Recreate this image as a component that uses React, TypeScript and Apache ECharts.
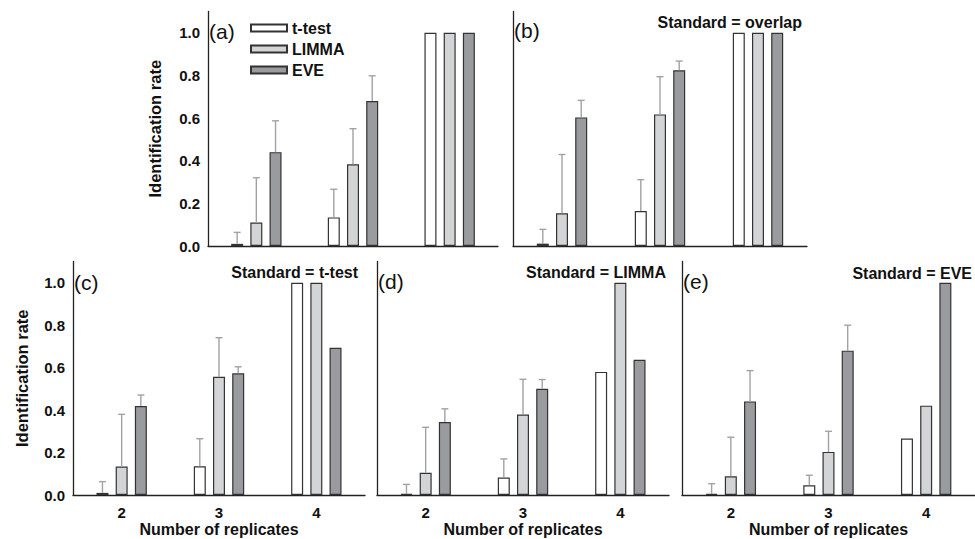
import React, { useEffect, useRef } from "react";
import * as echarts from "echarts";

// ---------- data ----------
const categories = ["2", "3", "4"];
const methodNames = ["t-test", "LIMMA", "EVE"];
const yTicks = [0, 0.2, 0.4, 0.6, 0.8, 1.0];

// panel (a) – no standard
const aTTest = [0.01, 0.134, 1.0];
const aTTestErr = [0.064, 0.266, null];
const aLimma = [0.11, 0.383, 1.0];
const aLimmaErr = [0.32, 0.55, null];
const aEve = [0.44, 0.68, 1.0];
const aEveErr = [0.587, 0.798, null];

// panel (b) – Standard = overlap
const bTTest = [0.011, 0.164, 1.0];
const bTTestErr = [0.078, 0.311, null];
const bLimma = [0.153, 0.617, 1.0];
const bLimmaErr = [0.429, 0.794, null];
const bEve = [0.603, 0.824, 1.0];
const bEveErr = [0.683, 0.867, null];

// panel (c) – Standard = t-test
const cTTest = [0.01, 0.135, 1.0];
const cTTestErr = [0.063, 0.265, null];
const cLimma = [0.134, 0.557, 1.0];
const cLimmaErr = [0.38, 0.741, null];
const cEve = [0.419, 0.573, 0.694];
const cEveErr = [0.471, 0.604, null];

// panel (d) – Standard = LIMMA
const dTTest = [0.005, 0.082, 0.58];
const dTTestErr = [0.05, 0.17, null];
const dLimma = [0.105, 0.379, 1.0];
const dLimmaErr = [0.319, 0.545, null];
const dEve = [0.344, 0.5, 0.637];
const dEveErr = [0.406, 0.544, null];

// panel (e) – Standard = EVE
const eTTest = [0.005, 0.046, 0.266];
const eTTestErr = [0.053, 0.093, null];
const eLimma = [0.088, 0.203, 0.421];
const eLimmaErr = [0.272, 0.3, null];
const eEve = [0.441, 0.68, 1.0];
const eEveErr = [0.586, 0.8, null];

const panelLetters = ["(a)", "(b)", "(c)", "(d)", "(e)"];
const standardLabels = ["", "Standard = overlap", "Standard = t-test", "Standard = LIMMA", "Standard = EVE"];
const yAxisTitle = "Identification rate";
const xAxisTitle = "Number of replicates";

const panels = [
  { values: [aTTest, aLimma, aEve], errors: [aTTestErr, aLimmaErr, aEveErr] },
  { values: [bTTest, bLimma, bEve], errors: [bTTestErr, bLimmaErr, bEveErr] },
  { values: [cTTest, cLimma, cEve], errors: [cTTestErr, cLimmaErr, cEveErr] },
  { values: [dTTest, dLimma, dEve], errors: [dTTestErr, dLimmaErr, dEveErr] },
  { values: [eTTest, eLimma, eEve], errors: [eTTestErr, eLimmaErr, eEveErr] },
];

// ---------- layout / style ----------
const FONT = "Liberation Sans";
const grids = [
  { left: 208, top: 11.4, width: 290, height: 234.6 },
  { left: 513, top: 11.4, width: 294, height: 234.6 },
  { left: 73, top: 261.5, width: 292, height: 233.5 },
  { left: 377, top: 261.5, width: 292, height: 233.5 },
  { left: 682, top: 261.5, width: 293, height: 233.5 },
];
const fills = ["#ffffff", "#d3d4d6", "#9a9b9f"];
const BAR_W = 12;
const BAR_GAP = 0.6;
const STEP = BAR_W * (1 + BAR_GAP);
const ERR_COLOR = "#a2a2a2";
const letterPos = [
  { x: 209, y: 31 },
  { x: 514, y: 30 },
  { x: 74, y: 282 },
  { x: 378, y: 281 },
  { x: 683, y: 281 },
];
const stdPos = [
  { x: 0, y: 0 },
  { x: 802, y: 22 },
  { x: 358, y: 272 },
  { x: 666, y: 272 },
  { x: 972, y: 273 },
];

export default function App() {
  const ref = useRef<HTMLDivElement>(null);
  useEffect(() => {
    if (!ref.current) return;
    const chart = echarts.init(ref.current, null, { renderer: "svg" });

    const xAxis: any[] = [];
    const yAxis: any[] = [];
    const series: any[] = [];

    panels.forEach((p, pi) => {
      const bottom = pi >= 2;
      const leftCol = pi === 0 || pi === 2;
      xAxis.push({
        type: "category",
        gridIndex: pi,
        data: categories,
        axisLine: { lineStyle: { color: "#222", width: 1.3 } },
        axisTick: { show: false },
        axisLabel: {
          show: bottom,
          margin: 10,
          fontFamily: FONT,
          fontWeight: "bold",
          fontSize: 15,
          color: "#111",
        },
        name: bottom ? xAxisTitle : "",
        nameLocation: "middle",
        nameGap: 26,
        nameTextStyle: { fontFamily: FONT, fontWeight: "bold", fontSize: 16, color: "#111" },
      });
      yAxis.push({
        type: "value",
        gridIndex: pi,
        min: 0,
        max: 1.1,
        interval: yTicks[1] - yTicks[0],
        splitLine: { show: false },
        axisLine: { show: true, lineStyle: { color: "#222", width: 1.3 } },
        axisTick: { show: false },
        axisLabel: {
          show: leftCol,
          showMaxLabel: false,
          margin: 8,
          formatter: (v: number) => v.toFixed(1),
          fontFamily: FONT,
          fontWeight: "bold",
          fontSize: 15,
          color: "#111",
        },
        name: leftCol ? yAxisTitle : "",
        nameLocation: "middle",
        nameGap: pi === 0 ? 45 : 43,
        nameTextStyle: { fontFamily: FONT, fontWeight: "bold", fontSize: 16.5, color: "#111" },
      });

      methodNames.forEach((name, si) => {
        series.push({
          type: "bar",
          name,
          xAxisIndex: pi,
          yAxisIndex: pi,
          data: p.values[si],
          barWidth: BAR_W,
          barGap: BAR_GAP * 100 + "%",
          z: 2,
          itemStyle: { color: fills[si], borderColor: "#333", borderWidth: 1.2 },
        });
      });

      methodNames.forEach((name, si) => {
        const d: any[] = [];
        p.values[si].forEach((v, ci) => {
          const e = p.errors[si][ci];
          if (e !== null && e !== undefined) d.push([ci, v, e]);
        });
        const offset = (si - 1) * STEP;
        series.push({
          type: "custom",
          name: name + " error",
          xAxisIndex: pi,
          yAxisIndex: pi,
          z: 3,
          encode: { x: 0, y: 1 },
          data: d,
          renderItem: (params: any, api: any) => {
            const cat = api.value(0);
            const p0 = api.coord([cat, api.value(1)]);
            const p1 = api.coord([cat, api.value(2)]);
            const x = p0[0] + offset;
            const st = { stroke: ERR_COLOR, lineWidth: 1.4 };
            return {
              type: "group",
              children: [
                { type: "line", shape: { x1: x, y1: p0[1], x2: x, y2: p1[1] }, style: st },
                { type: "line", shape: { x1: x - 3.5, y1: p1[1], x2: x + 3.5, y2: p1[1] }, style: st },
              ],
            };
          },
        });
      });
    });

    const graphic: any[] = [];
    panelLetters.forEach((t, i) => {
      graphic.push({
        type: "text",
        x: letterPos[i].x,
        y: letterPos[i].y,
        style: { text: t, fontFamily: FONT, fontSize: 21, fill: "#111", verticalAlign: "middle" },
      });
      if (standardLabels[i]) {
        graphic.push({
          type: "text",
          x: stdPos[i].x,
          y: stdPos[i].y,
          style: {
            text: standardLabels[i],
            fontFamily: FONT,
            fontWeight: "bold",
            fontSize: 16,
            fill: "#111",
            align: "right",
            verticalAlign: "middle",
          },
        });
      }
    });

    chart.setOption({
      animation: false,
      grid: grids.map((g) => ({ ...g, containLabel: false })),
      xAxis,
      yAxis,
      series,
      graphic,
      legend: {
        data: methodNames,
        orient: "vertical",
        left: 245,
        top: 15,
        itemWidth: 36,
        itemHeight: 7,
        itemGap: 5,
        selectedMode: false,
        icon: "rect",
        textStyle: { fontFamily: FONT, fontWeight: "bold", fontSize: 16, lineHeight: 16, color: "#111" },
      },
    });
    return () => chart.dispose();
  }, []);
  return (
    <div
      ref={ref}
      style={{ position: "absolute", left: 0, top: 0, width: 975, height: 539, background: "#fff" }}
    />
  );
}
